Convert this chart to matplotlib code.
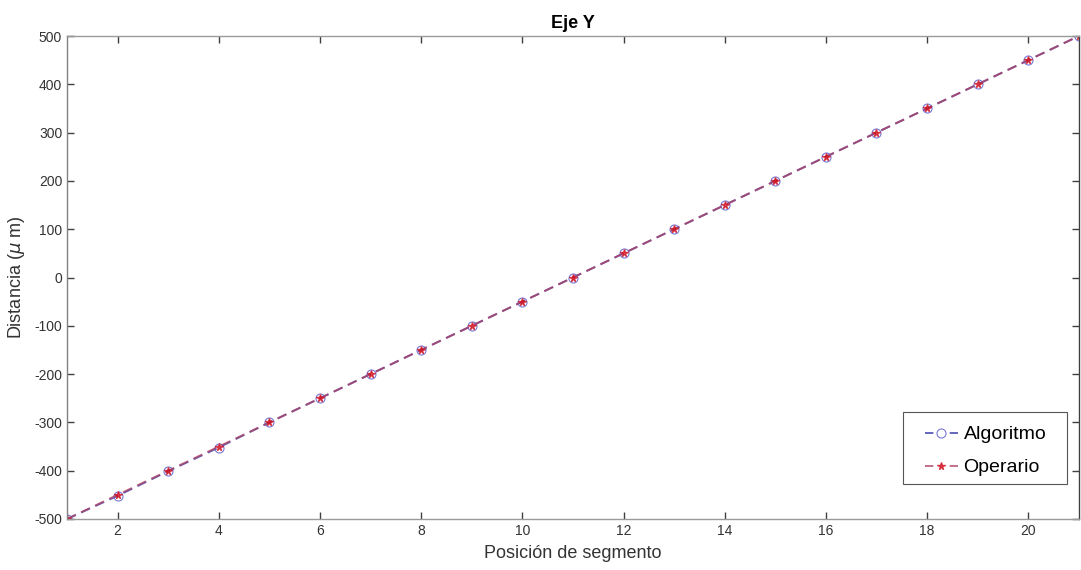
import matplotlib
matplotlib.use("Agg")
import matplotlib.pyplot as plt
from matplotlib.patches import Rectangle

plt.rcParams['font.family'] = ['Liberation Sans', 'DejaVu Sans']
plt.rcParams['axes.unicode_minus'] = False

posicion = list(range(1, 22))
algoritmo = [-500, -452, -401, -352, -300, -250, -200, -150, -100, -50, 0,
             50, 100, 150, 200, 250, 300, 350, 400, 450, 500]
operario = [-500, -450, -400, -350, -300, -250, -200, -150, -100, -50, 0,
            50, 100, 150, 200, 250, 300, 350, 400, 450, 500]
xticks = [2, 4, 6, 8, 10, 12, 14, 16, 18, 20]
yticks = [-500, -400, -300, -200, -100, 0, 100, 200, 300, 400, 500]

W, H = 1081, 570
fig = plt.figure(figsize=(W / 100, H / 100), dpi=100)
ax = fig.add_axes([0.062, 0.0895, 0.936, 0.8473])

ax.plot(posicion, algoritmo, linestyle=(0, (5, 3)), color='#4a4ab0', marker='o',
        markersize=6.5, markerfacecolor='none', markeredgecolor='#6060d0',
        markeredgewidth=0.8, linewidth=1.4, label='Algoritmo', alpha=0.85)
ax.plot(posicion, operario, linestyle=(0, (5, 3)), color='#b04060', marker='*',
        markersize=5.5, markerfacecolor='#d01020', markeredgecolor='#d01020',
        linewidth=1.4, label='Operario', alpha=0.75)

ax.set_xlim(1, 21)
ax.set_ylim(-500, 500)
ax.set_xticks(xticks)
ax.set_yticks(yticks)
ax.tick_params(direction='in', length=5, width=1, colors='#404040',
               labelsize=10, top=True, right=True, labelcolor='#333333')
for s in ax.spines.values():
    s.set_color('#9a9a9a')
    s.set_linewidth(1)
ax.spines['left'].set_color('#808080')
ax.spines['right'].set_color('#404040')

ax.set_title('Eje Y', fontsize=13, fontweight='bold', pad=6)
ax.set_xlabel('Posición de segmento', fontsize=13, color='#333333', labelpad=5)
ax.set_ylabel(r'Distancia ($\mu$ m)', fontsize=13, color='#333333', labelpad=5)

# legend frame drawn separately (MATLAB-style wider horizontal padding)
frame = Rectangle((903 / W, 1 - 484 / H), 164 / W, 72 / H,
                  transform=fig.transFigure, facecolor='white',
                  edgecolor='#555555', linewidth=0.8, zorder=4, clip_on=False)
ax.add_artist(frame)
leg = ax.legend(loc='upper left', bbox_to_anchor=(915 / W, 1 - 416 / H),
                bbox_transform=fig.transFigure, fontsize=14,
                frameon=False, handlelength=1.7, borderpad=0.5,
                labelspacing=0.8, handletextpad=0.3, borderaxespad=0.0)
leg.set_zorder(5)
for ln in leg.get_lines():
    ln.set_linestyle((0, (4.3, 8.4)))

fig.savefig('out.png', dpi=100)
